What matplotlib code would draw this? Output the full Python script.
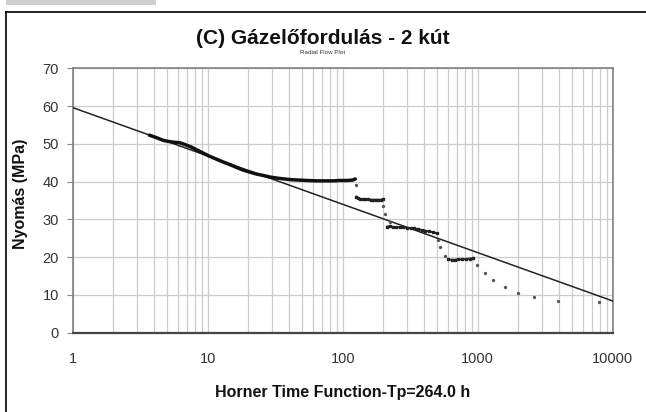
import matplotlib
matplotlib.use("Agg")
import matplotlib.pyplot as plt
from matplotlib.lines import Line2D
from matplotlib.patches import Rectangle

plt.rcParams['font.family'] = ['Liberation Sans', 'DejaVu Sans']

# ---- data ----
title = "(C) Gázelőfordulás - 2 kút"
subtitle = "Radial Flow Plot"
xlabel = "Horner Time Function-Tp=264.0 h"
ylabel = "Nyomás (MPa)"

x_ticks = [1, 10, 100, 1000, 10000]
x_tick_labels = ["1", "10", "100", "1000", "10000"]
y_ticks = [0, 10, 20, 30, 40, 50, 60, 70]

# early-time thick curve
time_a = [3.7, 4.2, 4.7, 5.2, 5.7, 6.2, 6.8, 7.5, 8.3, 9.2, 10.2, 11.5, 13, 14.6,
          16.5, 18.5, 20.6, 23, 26, 29, 33, 37, 42, 48, 55, 64, 74, 85, 95, 107, 118, 124]
p_a = [52.3, 51.6, 50.9, 50.6, 50.4, 50.3, 49.8, 49.2, 48.4, 47.6, 46.8, 46.0, 45.2, 44.5,
       43.7, 43.0, 42.5, 42.0, 41.6, 41.2, 40.9, 40.7, 40.5, 40.4, 40.3, 40.2, 40.2, 40.2,
       40.3, 40.3, 40.4, 40.7]

# step plateaus
time_b = [126, 130, 135, 141, 147, 154, 161, 168, 176, 184, 192, 199]
p_b = [36.0, 35.6, 35.4, 35.3, 35.3, 35.3, 35.2, 35.2, 35.2, 35.2, 35.2, 35.3]

time_c = [214, 224, 235, 250, 265, 282, 300, 320, 340, 362, 385, 410, 437, 465, 497]
p_c = [28.1, 28.2, 28.0, 27.9, 27.9, 27.9, 27.8, 27.7, 27.6, 27.4, 27.2, 27.0, 26.8, 26.6, 26.3]

time_d = [606, 640, 680, 720, 770, 820, 870, 929]
p_d = [19.4, 19.3, 19.3, 19.4, 19.4, 19.5, 19.6, 19.7]

# isolated points (transitions and late time)
time_s = [125, 199, 206, 224, 511, 526, 573, 988, 1133, 1298, 1592, 1987, 2612, 3935, 7925]
p_s = [39.2, 33.5, 31.5, 29.3, 24.6, 22.6, 20.3, 18.0, 15.8, 14.0, 12.1, 10.5, 9.5, 8.4, 8.2]

# semilog straight-line fit
line_t = [1, 10000]
line_p = [59.6, 8.4]

# ---- figure ----
W, H = 646, 412
fig = plt.figure(figsize=(W / 100, H / 100), dpi=100)
fig.patch.set_facecolor('white')

# outer frame (top and left edges visible) and grey tab
fig.add_artist(Line2D([6 / W, 1], [1 - 12 / H, 1 - 12 / H], color='black', lw=1.2,
                      transform=fig.transFigure))
fig.add_artist(Line2D([6 / W, 6 / W], [0, 1 - 12 / H], color='black', lw=1.2,
                      transform=fig.transFigure))
fig.add_artist(Rectangle((6 / W, 1 - 5 / H), 150 / W, 5 / H, color='#cfcfcf',
                         transform=fig.transFigure, lw=0))

left, right, top, bottom = 72.7, 612.7, 68.3, 332.7
ax = fig.add_axes([left / W, 1 - bottom / H, (right - left) / W, (bottom - top) / H])

ax.set_xscale('log')
ax.set_xlim(1, 10000)
ax.set_ylim(0, 70)

ax.set_xticks(x_ticks)
ax.set_xticklabels(x_tick_labels)
ax.set_yticks(y_ticks)

ax.grid(True, which='major', axis='both', color='#cccccc', lw=0.9)
ax.grid(True, which='minor', axis='x', color='#cccccc', lw=0.9)
ax.set_axisbelow(True)

ax.tick_params(axis='x', which='both', length=0, pad=14, labelsize=10.5, labelcolor='#333333')
ax.tick_params(axis='y', which='both', length=4.3, width=0.8, color='#888888',
               direction='out', pad=5.5, labelsize=10.5, labelcolor='#333333')
ax.minorticks_on()
ax.yaxis.set_minor_locator(matplotlib.ticker.NullLocator())
ax.tick_params(axis='x', which='minor', length=0, labelbottom=False)

for s in ['top', 'right', 'left']:
    ax.spines[s].set_color('#808080')
    ax.spines[s].set_linewidth(1.2)
ax.spines['bottom'].set_color('#444444')
ax.spines['bottom'].set_linewidth(1.6)

# straight line
ax.plot(line_t, line_p, color='#222222', lw=1.1, zorder=3)

# data
ax.plot(time_a, p_a, color='#111111', lw=2.5, solid_capstyle='round', zorder=4)
for tt, pp in [(time_b, p_b), (time_c, p_c), (time_d, p_d)]:
    ax.plot(tt, pp, color='#222222', lw=1.4, marker='s', ms=1.9, mec='#222222',
            mfc='#222222', zorder=4)
ax.plot(time_s, p_s, ls='none', marker='o', ms=2.4, color='#555555', mew=0, zorder=4)

ax.set_xlabel(xlabel, fontsize=11.5, fontweight='bold', color='#111111')
ax.xaxis.set_label_coords(0.5, (bottom - 385) / (bottom - top))
ax.set_ylabel(ylabel, fontsize=11.5, fontweight='bold', color='#111111')
ax.yaxis.set_label_coords((28 - left) / (right - left), (bottom - 194) / (bottom - top))

fig.text(0.5, 1 - 39 / H, title, ha='center', va='center', fontsize=15,
         fontweight='bold', color='#111111')
fig.text(0.5, 1 - 53 / H, subtitle, ha='center', va='center', fontsize=4.5,
         color='#333333')

fig.savefig('out.png', dpi=100)
